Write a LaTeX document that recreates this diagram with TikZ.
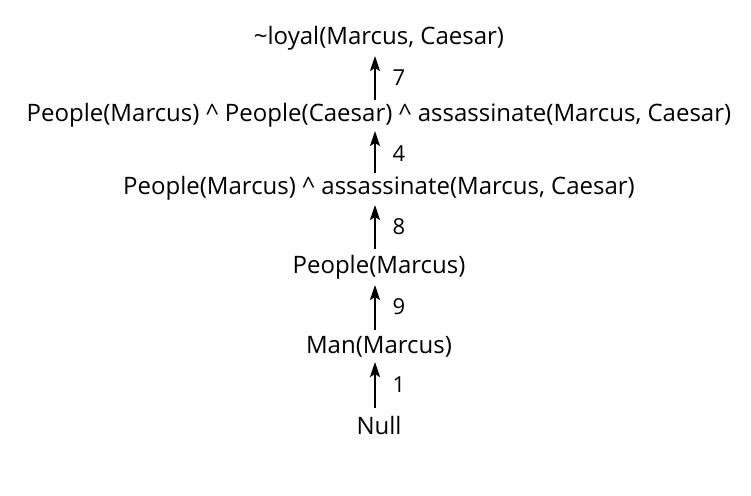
\documentclass[tikz,border=0pt]{standalone}
\usepackage{fontspec}
\setmainfont{Open Sans}
\usetikzlibrary{arrows.meta}
\begin{document}
\begin{tikzpicture}[x=1pt,y=1pt,
  lbl/.style={inner sep=0pt,font=\fontsize{24}{28}\selectfont},
  num/.style={inner sep=0pt,font=\fontsize{22}{26}\selectfont},
  arr/.style={-{Stealth[length=15pt,width=10pt,inset=3pt]},line width=2pt}]
\useasboundingbox (0,0) rectangle (751,-495);
\node[lbl] (t0) at (379,-38) {\char"007Eloyal(Marcus, Caesar)};
\node[lbl] (t1) at (379,-115) {People(Marcus) \char"005E\ People(Caesar) \char"005E\ assassinate(Marcus, Caesar)};
\node[lbl] (t2) at (379,-188) {People(Marcus) \char"005E\ assassinate(Marcus, Caesar)};
\node[lbl] (t3) at (379,-267) {People(Marcus)};
\node[lbl] (t4) at (379,-347) {Man(Marcus)};
\node[lbl] (t5) at (379,-425) {Null};
\coordinate (a1s) at (375,-100); \coordinate (a1e) at (375,-56);
\coordinate (a2s) at (375,-173); \coordinate (a2e) at (375,-131);
\coordinate (a3s) at (375,-249); \coordinate (a3e) at (375,-205);
\coordinate (a4s) at (375,-330); \coordinate (a4e) at (375,-285);
\coordinate (a5s) at (375,-408); \coordinate (a5e) at (375,-362);
\node[num] (n1) at (399,-78) {7};
\node[num] (n2) at (399,-154) {4};
\node[num] (n3) at (399,-227) {8};
\node[num] (n4) at (399,-307) {9};
\node[num] (n5) at (399,-385) {1};
\draw[arr] (a1s) -- (a1e);
\draw[arr] (a2s) -- (a2e);
\draw[arr] (a3s) -- (a3e);
\draw[arr] (a4s) -- (a4e);
\draw[arr] (a5s) -- (a5e);
\end{tikzpicture}
\end{document}
